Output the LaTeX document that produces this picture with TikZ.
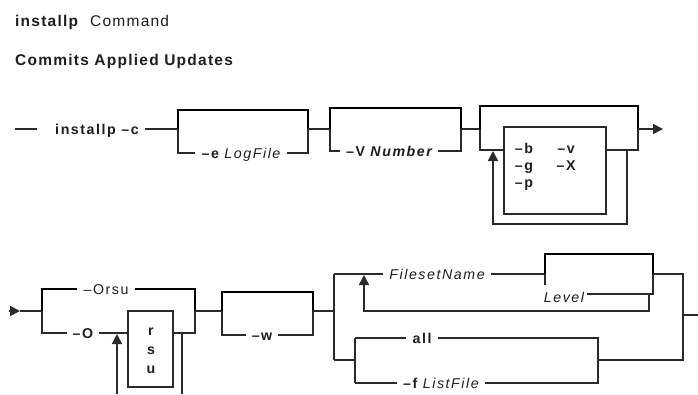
\documentclass[tikz,border=0pt]{standalone}
\usepackage{fontspec}
\setmainfont{Liberation Sans}
\newfontfamily\diag[LetterSpace=11]{Liberation Sans}
\newfontfamily\head[LetterSpace=8]{Liberation Sans}
\usetikzlibrary{arrows.meta}
\definecolor{ink}{HTML}{1E1E1E}
\definecolor{wire}{HTML}{2A2A2A}
\begin{document}
\begin{tikzpicture}[x=1pt,y=-1pt,
  thinline/.style={line width=1.6pt, draw=wire},
  thickline/.style={line width=2.8pt, draw=black},
  lbl/.style={inner xsep=6pt, inner ysep=0pt, anchor=base, text=ink,
              font=\diag\fontsize{14.2}{16}\selectfont},
  hdr/.style={inner sep=0pt, anchor=base west, text=ink,
              font=\head\fontsize{15.5}{17}\selectfont},
  optbox/.style={draw=wire, line width=1.6pt, inner sep=0pt},
  tip/.style={-{Triangle[length=10pt,width=10pt]}}]
\useasboundingbox (0,0) rectangle (698,394);
\fill[white] (0,0) rectangle (698,394);

% ---------- headings
\node[hdr] (t1) at (15,26.5) {\bfseries installp};
\node[hdr] (t2) at (90,26.5) {Command};
\node[hdr] (t3) at (15,65.5) {\bfseries Commits Applied Updates};

% ---------- row 1
\coordinate (s0) at (15,129);
\coordinate (s1) at (37,129);
\draw[thinline] (s0) -- (s1);
\node[lbl] (cmd) at (97,134.5) {\bfseries installp –c};

% group 1 : -e LogFile
\coordinate (g1L) at (178,129);
\coordinate (g1R) at (308,129);
\coordinate (g1tl) at (178,110);
\coordinate (g1tr) at (308,110);
\coordinate (g1bl) at (178,153);
\coordinate (g1br) at (308,153);
\node[lbl] (logf) at (241,158.5) {\bfseries –e \mdseries\itshape LogFile};
\draw[thinline] (cmd.east |- g1L) -- (g1L);
\draw[thickline] (g1L) -- (g1tl) -- (g1tr) -- (g1R);
\draw[thinline] (g1L) -- (g1bl) -- (logf.west |- g1bl);
\draw[thinline] (logf.east |- g1br) -- (g1br) -- (g1R);

% group 2 : -V Number
\coordinate (g2L) at (330,129);
\coordinate (g2R) at (461,129);
\coordinate (g2tl) at (330,108);
\coordinate (g2tr) at (461,108);
\coordinate (g2bl) at (330,151);
\coordinate (g2br) at (461,151);
\node[lbl] (numb) at (389,156.5) {\bfseries –V \itshape Number};
\draw[thinline] (g1R) -- (g2L);
\draw[thickline] (g2L) -- (g2tl) -- (g2tr) -- (g2R);
\draw[thinline] (g2L) -- (g2bl) -- (numb.west |- g2bl);
\draw[thinline] (numb.east |- g2br) -- (g2br) -- (g2R);

% group 3 : repeatable flags
\coordinate (g3L) at (480,129);
\coordinate (g3R) at (638,129);
\coordinate (g3tl) at (480,106);
\coordinate (g3tr) at (638,106);
\coordinate (g3bl) at (480,150);
\coordinate (g3br) at (638,150);
\coordinate (lpR) at (627,150);
\coordinate (lpRb) at (627,224);
\coordinate (lpLb) at (493,224);
\coordinate (lpL) at (493,151);
\coordinate (out1) at (663,129);
\node[optbox, minimum width=102pt, minimum height=87pt] (flags) at (555,170.5) {};
\node[lbl] (fb) at (524,153.5) {\bfseries –b};
\node[lbl] (fg) at (524,170.5) {\bfseries –g};
\node[lbl] (fp) at (524,187.5) {\bfseries –p};
\node[lbl] (fv) at (566,153.5) {\bfseries –v};
\node[lbl] (fx) at (566,170.5) {\bfseries –X};
\draw[thinline] (g2R) -- (g3L);
\draw[thickline] (g3L) -- (g3tl) -- (g3tr) -- (g3R);
\draw[thinline] (g3L) -- (g3bl) -- (flags.west |- g3bl);
\draw[thinline] (flags.east |- g3br) -- (g3br) -- (g3R);
\draw[thinline, tip] (lpR) -- (lpRb) -- (lpLb) -- (lpL);
\draw[thinline, tip] (g3R) -- (out1);

% ---------- row 2
\coordinate (e0) at (9,311);
\coordinate (e1) at (20,311);
\draw[thinline, tip] (e0) -- (e1);

% group A : -Orsu / -O rsu
\coordinate (gAL) at (42,311);
\coordinate (gAR) at (195,311);
\coordinate (gAtl) at (42,289);
\coordinate (gAtr) at (195,289);
\coordinate (gAbl) at (42,333);
\coordinate (gAbr) at (195,333);
\node[lbl] (orsu) at (106,294.5) {–Orsu};
\node[lbl] (oo) at (83,338.5) {\bfseries –O};
\node[optbox, minimum width=45pt, minimum height=76pt] (rsu) at (150.5,349) {};
\node[lbl] (lr) at (151,335) {\bfseries r};
\node[lbl] (ls) at (151,354) {\bfseries s};
\node[lbl] (lu) at (151,373) {\bfseries u};
\coordinate (rlR) at (182,333);
\coordinate (rlRb) at (182,394);
\coordinate (rlLb) at (117,394);
\coordinate (rlL) at (117,334);
\draw[thinline] (e1) -- (gAL);
\draw[thickline] (gAL) -- (gAtl) -- (orsu.west |- gAtl);
\draw[thickline] (orsu.east |- gAtr) -- (gAtr) -- (gAR);
\draw[thinline] (gAL) -- (gAbl) -- (oo.west |- gAbl);
\draw[thinline] (oo.east |- gAbl) -- (rsu.west |- gAbl);
\draw[thinline] (rsu.east |- gAbr) -- (gAbr) -- (gAR);
\draw[thinline] (rlR) -- (rlRb);
\draw[thinline, tip] (rlLb) -- (rlL);

% group B : -w
\coordinate (gBL) at (222,311);
\coordinate (gBR) at (313,311);
\coordinate (gBtl) at (222,292);
\coordinate (gBtr) at (313,292);
\coordinate (gBbl) at (222,335);
\coordinate (gBbr) at (313,335);
\node[lbl] (ww) at (262,340.5) {\bfseries –w};
\draw[thinline] (gAR) -- (gBL);
\draw[thickline] (gBL) -- (gBtl) -- (gBtr) -- (gBR);
\draw[thinline] (gBL) -- (gBbl) -- (ww.west |- gBbl);
\draw[thinline] (ww.east |- gBbr) -- (gBbr) -- (gBR);

% group C : FilesetName [Level] ... | all | -f ListFile
\coordinate (jC) at (334,311);
\coordinate (jCt) at (334,274);
\coordinate (jCb) at (334,360);
\coordinate (lvL) at (545,274);
\coordinate (lvR) at (653,274);
\coordinate (lvtl) at (545,254);
\coordinate (lvtr) at (653,254);
\coordinate (lvbl) at (545,285);
\coordinate (lvbr) at (653,294);
\coordinate (rpA) at (649,294);
\coordinate (rpB) at (649,311);
\coordinate (rpC) at (364,311);
\coordinate (rpD) at (364,275);
\coordinate (jD) at (683,274);
\coordinate (jDo) at (683,315);
\coordinate (jDb) at (683,360);
\coordinate (exit) at (698,315);
\coordinate (alL) at (355,360);
\coordinate (altl) at (355,338);
\coordinate (albl) at (355,383);
\coordinate (alR) at (598,360);
\coordinate (altr) at (598,338);
\coordinate (albr) at (598,383);
\node[lbl] (fsn) at (437,279.5) {\itshape FilesetName};
\node[lbl, inner xsep=3pt] (lvl) at (564,302) {\itshape Level};
\node[lbl] (all) at (422,343.5) {\bfseries all};
\node[lbl] (lsf) at (441,388) {\bfseries –f \mdseries\itshape ListFile};
\draw[thinline] (gBR) -- (jC);
\draw[thinline] (jCt) -- (jCb);
\draw[thinline] (jCt) -- (fsn.west |- jCt);
\draw[thinline] (fsn.east |- lvL) -- (lvL);
\draw[thickline] (lvL) -- (lvtl) -- (lvtr) -- (lvR);
\draw[thinline] (lvL) -- (lvbl);
\draw[thinline] (lvl.east |- lvbr) -- (lvbr) -- (lvR);
\draw[thinline, tip] (rpA) -- (rpB) -- (rpC) -- (rpD);
\draw[thinline] (lvR) -- (jD) -- (jDb) -- (alR);
\draw[thinline] (jDo) -- (exit);
\draw[thinline] (jCb) -- (alL);
\draw[thinline] (altl) -- (albl);
\draw[thinline] (altl) -- (all.west |- altl);
\draw[thinline] (all.east |- altr) -- (altr) -- (albr) -- (lsf.east |- albr);
\draw[thinline] (lsf.west |- albl) -- (albl);
\end{tikzpicture}
\end{document}
